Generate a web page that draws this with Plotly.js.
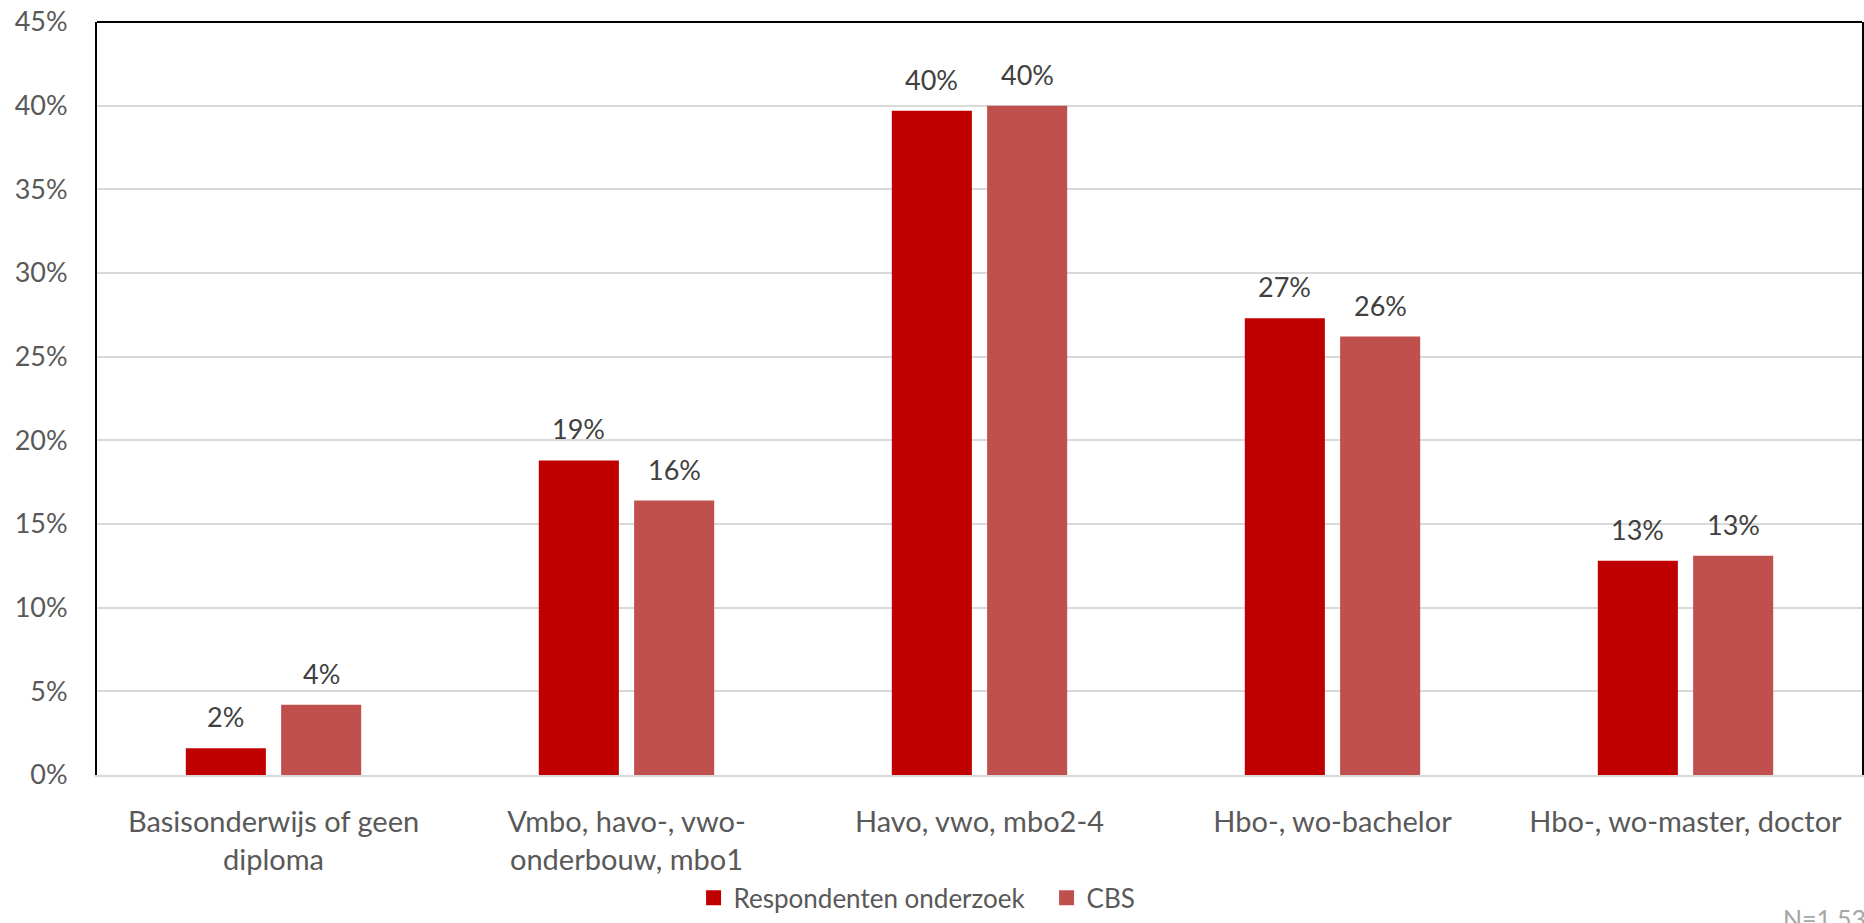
<!DOCTYPE html>
<html>
<head>
<meta charset="utf-8">
<script src="https://cdn.plot.ly/plotly-3.0.1.min.js"></script>
<style>html,body{margin:0;padding:0;background:#fff;}#chart{width:1864px;height:923px;}</style>
</head>
<body>
<div id="chart"></div>
<script>
const categories = ["Basisonderwijs of geen<br>diploma", "Vmbo, havo-, vwo-<br>onderbouw, mbo1", "Havo, vwo, mbo2-4", "Hbo-, wo-bachelor", "Hbo-, wo-master, doctor"];
const respondenten = [0.016, 0.188, 0.397, 0.273, 0.128];
const cbs = [0.042, 0.164, 0.400, 0.262, 0.131];
const seriesNames = ["Respondenten onderzoek", "CBS"];
const seriesColors = ['#C00000', '#C0504D'];
const noteText = "N=1.53";

const font = "Lato, 'Open Sans', sans-serif";
const W = 1864, ML = 97, MR = 2;
const bargap = 0.46;
const catW = (W - ML - MR) / categories.length;
const slotOffset = (1 - bargap) * catW / 4;

const traces = [
  {type: 'bar', x: categories, y: respondenten, name: seriesNames[0], marker: {color: seriesColors[0]}, hoverinfo: 'skip', showlegend: false},
  {type: 'bar', x: categories, y: cbs, name: seriesNames[1], marker: {color: seriesColors[1]}, hoverinfo: 'skip', showlegend: false}
];
seriesNames.forEach((n, i) => {
  traces.push({type: 'scatter', mode: 'markers', x: [categories[0]], y: [null], name: n,
    marker: {symbol: 'square', size: 15, color: seriesColors[i]}, hoverinfo: 'skip', showlegend: true});
});

const labelAnn = [];
[respondenten, cbs].forEach((arr, si) => {
  arr.forEach((v, i) => {
    labelAnn.push({x: categories[i], y: v, xref: 'x', yref: 'y', text: Math.round(v * 100) + '%',
      showarrow: false, xanchor: 'center', yanchor: 'bottom', yshift: 13,
      xshift: si === 0 ? -slotOffset : slotOffset,
      font: {size: 27, color: '#404040', family: font}});
  });
});

const layout = {
  width: W, height: 923,
  margin: {l: ML, r: MR, t: 22, b: 146},
  paper_bgcolor: '#fff', plot_bgcolor: '#fff',
  font: {family: font, size: 27, color: '#595959'},
  barmode: 'group', bargap: bargap, bargroupgap: 0.16,
  xaxis: {showline: true, linecolor: '#d9d9d9', linewidth: 2, ticks: '', tickfont: {size: 29, color: '#595959'},
          showgrid: false, ticklabelstandoff: 20},
  yaxis: {range: [0, 0.45], dtick: 0.05, tickformat: '.0%', showgrid: true, gridcolor: '#d9d9d9', gridwidth: 2,
          showline: true, linecolor: '#000', linewidth: 2, mirror: true, ticks: '', zeroline: false,
          tickfont: {size: 27, color: '#595959'}, ticklabelstandoff: 22},
  shapes: [{type: 'line', xref: 'paper', yref: 'paper', x0: 0, x1: 1, y0: 1, y1: 1, line: {color: '#000', width: 2}}],
  legend: {orientation: 'h', x: 0.338, xanchor: 'left', y: -0.163, yanchor: 'middle', font: {size: 26, color: '#595959'},
           itemwidth: 30, entrywidth: 308},
  annotations: labelAnn.concat([{text: noteText, xref: 'paper', yref: 'paper', x: 0.954, y: -0.19, xanchor: 'left', yanchor: 'middle', showarrow: false,
                 font: {size: 25, color: '#a6a6a6'}}]),
  showlegend: true
};
Plotly.newPlot('chart', traces, layout, {displayModeBar: false});
</script>
</body>
</html>
